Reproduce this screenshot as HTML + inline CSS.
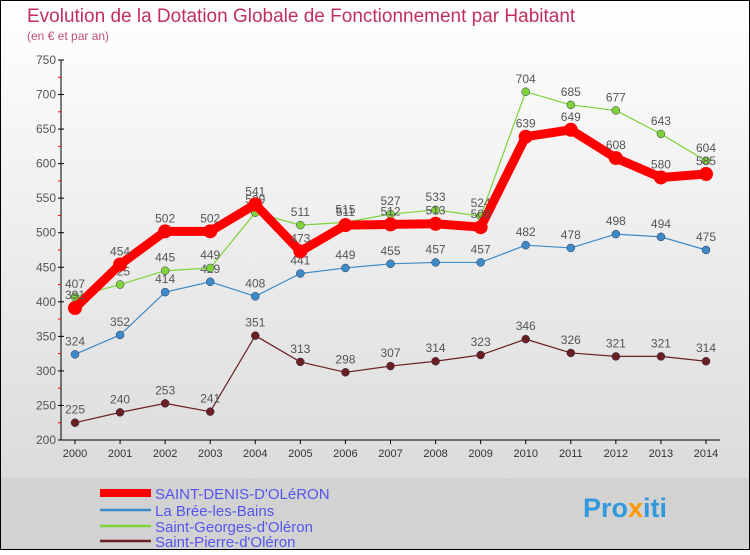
<!DOCTYPE html>
<html><head><meta charset="utf-8"><style>
body{margin:0}
svg text{font-family:"Liberation Sans",sans-serif}
</style></head><body>
<svg id="c" width="750" height="550" xmlns="http://www.w3.org/2000/svg">
<defs><linearGradient id="bg" x1="0" y1="0" x2="0" y2="1"><stop offset="0" stop-color="#ffffff"/><stop offset="1" stop-color="#d6d6d6"/></linearGradient></defs>
<rect x="0" y="0" width="750" height="550" fill="url(#bg)"/>
<rect x="0" y="478" width="750" height="72" fill="#d2d2d2"/>
<rect x="0.5" y="0.5" width="749" height="549" fill="none" stroke="#000"/>
<text x="27" y="22" font-size="19" fill="#c0305a">Evolution de la Dotation Globale de Fonctionnement par Habitant</text>
<text x="27" y="40" font-size="12" fill="#c0507a">(en € et par an)</text>
<g id="axes"></g>
<g id="series"></g>
<g id="legend"></g>
<text x="583" y="517" font-size="27" font-weight="bold" fill="#3399dd">Pro<tspan fill="#ff9900">x</tspan>iti</text>
</svg>
<script>
const years=["2000","2001","2002","2003","2004","2005","2006","2007","2008","2009","2010","2011","2012","2013","2014"];
const yTicks=[200,250,300,350,400,450,500,550,600,650,700,750];
const saintDenis=[391,454,502,502,541,473,511,512,513,508,639,649,608,580,585];
const laBree=[324,352,414,429,408,441,449,455,457,457,482,478,498,494,475];
const saintGeorges=[407,425,445,449,529,511,515,527,533,524,704,685,677,643,604];
const saintPierre=[225,240,253,241,351,313,298,307,314,323,346,326,321,321,314];
const NS="http://www.w3.org/2000/svg";
function X(i){return 75+i*(706-75)/14;}
function Y(v){return 440-(v-200)*380/550;}
function mk(t,a,p){const e=document.createElementNS(NS,t);for(const k in a)e.setAttribute(k,a[k]);p.appendChild(e);return e;}
const ax=document.getElementById('axes');
let l=mk('line',{x1:61,y1:60,x2:61,y2:440,stroke:'#000'},ax);

l=mk('line',{x1:61,y1:440,x2:720,y2:440,stroke:'#000'},ax);

yTicks.forEach(v=>{
 mk('line',{x1:58,y1:Y(v),x2:64,y2:Y(v),stroke:'#000'},ax);
 if(v<750)mk('line',{x1:58,y1:Y(v+25),x2:61,y2:Y(v+25),stroke:'#f00'},ax);
 const t=mk('text',{x:56,y:Y(v)+4,'font-size':12,fill:'#555','text-anchor':'end'},ax);t.textContent=v;
 
});
years.forEach((y,i)=>{
 mk('line',{x1:X(i),y1:440,x2:X(i),y2:444,stroke:'#000'},ax);
 const t=mk('text',{x:X(i),y:457,'font-size':11,fill:'#333','text-anchor':'middle'},ax);t.textContent=y;
 
});
const series=[
 {name:'Saint-Pierre-d\'Oléron',d:saintPierre,c:'#6b1f22',w:1.2,r:4,id:'saint-pierre'},
 {name:'La Brée-les-Bains',d:laBree,c:'#3d8ac8',w:1.2,r:4,id:'la-bree'},
 {name:'Saint-Georges-d\'Oléron',d:saintGeorges,c:'#7fd23a',w:1.2,r:4,id:'saint-georges'},
 {name:'SAINT-DENIS-D\'OLéRON',d:saintDenis,c:'#ff0000',w:9,r:7,id:'saint-denis'}
];
const sg=document.getElementById('series');
series.forEach(s=>{
 const g=mk('g',{},sg);
 
 const p=mk('polyline',{points:s.d.map((v,i)=>X(i)+','+Y(v)).join(' '),fill:'none',stroke:s.c,'stroke-width':s.w,'stroke-linejoin':'round'},g);
 
 s.d.forEach((v,i)=>{
  const c=mk('circle',{cx:X(i),cy:Y(v),r:s.r,fill:s.c,stroke:s.w>2?'none':'#335',"stroke-width":0.5},g);
  
  const t=mk('text',{x:X(i),y:Y(v)-9,'font-size':12,fill:'#555','text-anchor':'middle'},g);t.textContent=v;
  
 });
});
const lg=document.getElementById('legend');
[[3,493,8],[1,510,2.5],[2,526,2.5],[0,541,2.5]].forEach(([k,y,w])=>{
 const s=series[k];
 const g=mk('g',{},lg);
 
 mk('line',{x1:100,y1:y,x2:151,y2:y,stroke:s.c,'stroke-width':w},g);
 const t=mk('text',{x:155,y:y+6,'font-size':15,fill:'#5555ee'},g);t.textContent=s.name;
});
</script>
</body></html>
